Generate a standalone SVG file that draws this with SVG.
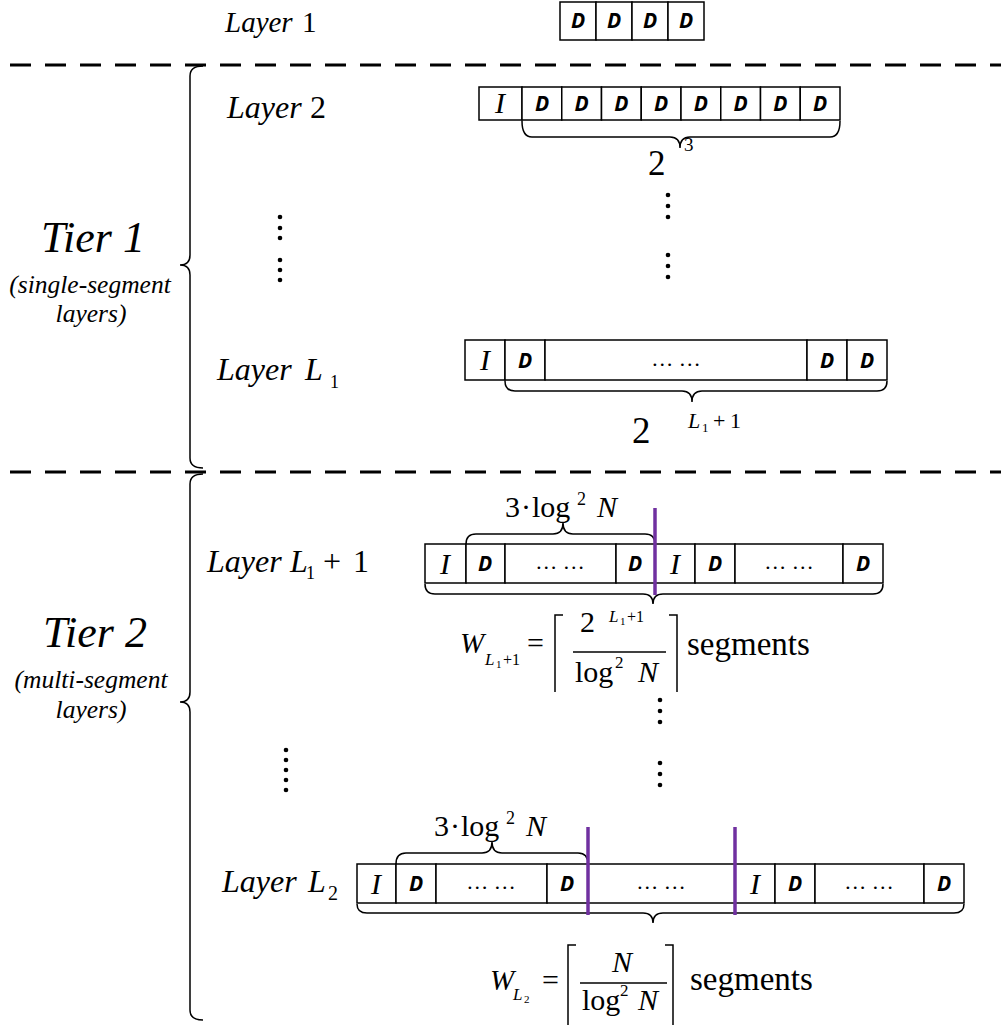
<svg xmlns="http://www.w3.org/2000/svg" width="1001" height="1025" viewBox="0 0 1001 1025">
<style>
.box{fill:#fff;stroke:#000;stroke-width:1.5}
.s{font-family:'Liberation Serif',serif}
.d{font-family:'Open Sans',sans-serif;font-weight:bold;font-style:italic;font-size:21px;text-anchor:middle}
.i{font-style:italic;font-size:30px;text-anchor:middle}
.el{font-size:22px;text-anchor:middle}
.t{fill:#000}
.it{font-style:italic}
.dash{stroke:#000;stroke-width:3;stroke-dasharray:21 14;fill:none}
.brace{fill:none;stroke:#000;stroke-width:1.5}
.ceil{fill:none;stroke:#000;stroke-width:1.5}
.purple{stroke:#7030A0;stroke-width:3.5}
.dot{fill:#000}
</style>

<g id="separators">
<line class="dash" x1="10" y1="65" x2="1001" y2="65"/>
<line class="dash" x1="10" y1="472" x2="1001" y2="472"/>
</g>

<g id="tier1" class="s">
<text class="t it" x="93" y="252" font-size="44" text-anchor="middle">Tier 1</text>
<text class="t it" x="90" y="293" font-size="25.5" text-anchor="middle">(single-segment</text>
<text class="t it" x="91" y="322" font-size="25.5" text-anchor="middle">layers)</text>
</g>
<g id="tier2" class="s">
<text class="t it" x="95" y="647" font-size="44" text-anchor="middle">Tier 2</text>
<text class="t it" x="91" y="688" font-size="25.5" text-anchor="middle">(multi-segment</text>
<text class="t it" x="91" y="718" font-size="25.5" text-anchor="middle">layers)</text>
</g>

<g id="layer1" class="s">
<text class="t it" x="225" y="32" font-size="29">Layer</text>
<text class="t" x="302" y="32" font-size="29">1</text>
<rect class="box" x="560" y="2" width="36" height="38"/>
<rect class="box" x="596" y="2" width="36" height="38"/>
<rect class="box" x="632" y="2" width="36" height="38"/>
<rect class="box" x="668" y="2" width="36" height="38"/>
<text class="d" x="578" y="28">D</text>
<text class="d" x="614" y="28">D</text>
<text class="d" x="650" y="28">D</text>
<text class="d" x="686" y="28">D</text>
</g>

<g id="layer2" class="s">
<text class="t it" x="227" y="118" font-size="32">Layer</text>
<text class="t" x="310" y="118" font-size="32">2</text>
<rect class="box" x="479" y="87" width="43" height="33"/>
<text class="i" x="500" y="113">I</text>
<rect class="box" x="522" y="87" width="39.75" height="33"/>
<rect class="box" x="561.75" y="87" width="39.75" height="33"/>
<rect class="box" x="601.5" y="87" width="39.75" height="33"/>
<rect class="box" x="641.25" y="87" width="39.75" height="33"/>
<rect class="box" x="681" y="87" width="39.75" height="33"/>
<rect class="box" x="720.75" y="87" width="39.75" height="33"/>
<rect class="box" x="760.5" y="87" width="39.75" height="33"/>
<rect class="box" x="800.25" y="87" width="39.75" height="33"/>
<text class="d" x="542" y="111">D</text>
<text class="d" x="581.6" y="111">D</text>
<text class="d" x="621.4" y="111">D</text>
<text class="d" x="661.1" y="111">D</text>
<text class="d" x="700.9" y="111">D</text>
<text class="d" x="740.6" y="111">D</text>
<text class="d" x="780.4" y="111">D</text>
<text class="d" x="820.1" y="111">D</text>
<text class="t" x="648" y="175" font-size="35">2</text>
<text class="t" x="684" y="151" font-size="19">3</text>
</g>

<g id="dots-tier1">
<circle class="dot" cx="280" cy="217" r="2.3"/>
<circle class="dot" cx="280" cy="228" r="2.3"/>
<circle class="dot" cx="280" cy="238" r="2.3"/>
<circle class="dot" cx="280" cy="260" r="2.3"/>
<circle class="dot" cx="280" cy="270" r="2.3"/>
<circle class="dot" cx="280" cy="280" r="2.3"/>
<circle class="dot" cx="668" cy="195" r="2.3"/>
<circle class="dot" cx="668" cy="206" r="2.3"/>
<circle class="dot" cx="668" cy="217" r="2.3"/>
<circle class="dot" cx="668" cy="255" r="2.3"/>
<circle class="dot" cx="668" cy="266" r="2.3"/>
<circle class="dot" cx="668" cy="277" r="2.3"/>
</g>

<g id="layerL1" class="s">
<text class="t it" x="217" y="380" font-size="32">Layer</text>
<text class="t it" x="305" y="380" font-size="32">L</text>
<text class="t" x="330" y="388" font-size="18">1</text>
<rect class="box" x="465" y="340" width="40" height="40"/>
<rect class="box" x="505" y="340" width="40" height="40"/>
<rect class="box" x="545" y="340" width="262" height="40"/>
<rect class="box" x="807" y="340" width="40" height="40"/>
<rect class="box" x="847" y="340" width="40" height="40"/>
<text class="i" x="485" y="370">I</text>
<text class="el" x="676" y="366">… …</text>
<text class="d" x="525" y="368">D</text>
<text class="d" x="827" y="368">D</text>
<text class="d" x="867" y="368">D</text>
<text class="t" x="632" y="443" font-size="37">2</text>
<text class="t it" x="688" y="428" font-size="22">L</text>
<text class="t" x="702" y="432" font-size="13">1</text>
<text class="t" x="713" y="428" font-size="22">+</text>
<text class="t" x="730" y="428" font-size="22">1</text>
</g>

<g id="layerL1p1" class="s">
<text class="t it" x="207" y="572" font-size="32">Layer</text>
<text class="t it" x="290" y="572" font-size="32">L</text>
<text class="t" x="306" y="579" font-size="18">1</text>
<text class="t" x="323" y="572" font-size="32">+</text>
<text class="t" x="353" y="572" font-size="32">1</text>
<text class="t" x="505" y="517" font-size="30">3</text>
<text class="t" x="521" y="517" font-size="30">·</text>
<text class="t" x="532" y="517" font-size="30">log</text>
<text class="t" x="577" y="505" font-size="18">2</text>
<text class="t it" x="597" y="517" font-size="30">N</text>
<rect class="box" x="425" y="544" width="41" height="39"/>
<rect class="box" x="466" y="544" width="39" height="39"/>
<rect class="box" x="505" y="544" width="111" height="39"/>
<rect class="box" x="616" y="544" width="39" height="39"/>
<rect class="box" x="655" y="544" width="40" height="39"/>
<rect class="box" x="695" y="544" width="40" height="39"/>
<rect class="box" x="735" y="544" width="108" height="39"/>
<rect class="box" x="843" y="544" width="40" height="39"/>
<text class="i" x="445" y="574">I</text>
<text class="el" x="560" y="569">… …</text>
<text class="i" x="675" y="574">I</text>
<text class="el" x="789" y="569">… …</text>
<text class="d" x="485" y="571">D</text>
<text class="d" x="635" y="571">D</text>
<text class="d" x="715" y="571">D</text>
<text class="d" x="863" y="571">D</text>
</g>

<g id="formula1" class="s">
<text class="t it" x="460" y="653" font-size="29">W</text>
<text class="t it" x="485" y="665" font-size="17">L</text>
<text class="t" x="496" y="668" font-size="11">1</text>
<text class="t" x="503" y="665" font-size="16">+1</text>
<text class="t" x="527" y="653" font-size="30">=</text>
<path class="ceil" d="M563,615 L555,615 L555,692"/>
<path class="ceil" d="M669,615 L677,615 L677,692"/>
<text class="t" x="580" y="632" font-size="30">2</text>
<text class="t it" x="609" y="622" font-size="17">L</text>
<text class="t" x="620" y="625" font-size="11">1</text>
<text class="t" x="627" y="622" font-size="16">+1</text>
<line x1="573" y1="652" x2="666" y2="652" stroke="#000" stroke-width="1.3"/>
<text class="t" x="575" y="682" font-size="30">log</text>
<text class="t" x="615" y="668" font-size="17">2</text>
<text class="t it" x="638" y="682" font-size="30">N</text>
<text class="t" x="687" y="655" font-size="33">segments</text>
</g>

<g id="dots-tier2">
<circle class="dot" cx="286" cy="750" r="2.3"/>
<circle class="dot" cx="286" cy="760" r="2.3"/>
<circle class="dot" cx="286" cy="770" r="2.3"/>
<circle class="dot" cx="286" cy="780" r="2.3"/>
<circle class="dot" cx="286" cy="790" r="2.3"/>
<circle class="dot" cx="660" cy="700" r="2.3"/>
<circle class="dot" cx="660" cy="711" r="2.3"/>
<circle class="dot" cx="660" cy="722" r="2.3"/>
<circle class="dot" cx="660" cy="763" r="2.3"/>
<circle class="dot" cx="660" cy="774" r="2.3"/>
<circle class="dot" cx="660" cy="785" r="2.3"/>
</g>

<g id="layerL2" class="s">
<text class="t it" x="222" y="892" font-size="32">Layer</text>
<text class="t it" x="308" y="892" font-size="32">L</text>
<text class="t" x="328" y="900" font-size="20">2</text>
<text class="t" x="434" y="836" font-size="30">3</text>
<text class="t" x="450" y="836" font-size="30">·</text>
<text class="t" x="461" y="836" font-size="30">log</text>
<text class="t" x="506" y="824" font-size="18">2</text>
<text class="t it" x="526" y="836" font-size="30">N</text>
<rect class="box" x="357" y="864" width="39" height="39"/>
<rect class="box" x="396" y="864" width="40" height="39"/>
<rect class="box" x="436" y="864" width="111" height="39"/>
<rect class="box" x="547" y="864" width="41" height="39"/>
<rect class="box" x="588" y="864" width="147" height="39"/>
<rect class="box" x="735" y="864" width="40" height="39"/>
<rect class="box" x="775" y="864" width="40" height="39"/>
<rect class="box" x="815" y="864" width="109" height="39"/>
<rect class="box" x="924" y="864" width="40" height="39"/>
<text class="i" x="376" y="894">I</text>
<text class="el" x="491" y="889">… …</text>
<text class="el" x="661" y="889">… …</text>
<text class="i" x="755" y="894">I</text>
<text class="el" x="869" y="889">… …</text>
<text class="d" x="416" y="891">D</text>
<text class="d" x="567" y="891">D</text>
<text class="d" x="795" y="891">D</text>
<text class="d" x="944" y="891">D</text>
</g>

<g id="formula2" class="s">
<text class="t it" x="490" y="990" font-size="29">W</text>
<text class="t it" x="513" y="1000" font-size="17">L</text>
<text class="t" x="524" y="1003" font-size="11">2</text>
<text class="t" x="542" y="990" font-size="30">=</text>
<path class="ceil" d="M576,945 L568,945 L568,1025"/>
<path class="ceil" d="M665,945 L673,945 L673,1025"/>
<text class="t it" x="612" y="972" font-size="30">N</text>
<line x1="580" y1="983" x2="667" y2="983" stroke="#000" stroke-width="1.3"/>
<text class="t" x="582" y="1010" font-size="30">log</text>
<text class="t" x="620" y="996" font-size="17">2</text>
<text class="t it" x="638" y="1010" font-size="30">N</text>
<text class="t" x="690" y="990" font-size="33">segments</text>
</g>

<g id="connectors">
<path class="brace" d="M203,66 Q190,66 190,76 L190,255 Q190,265 180,265 Q190,265 190,275 L190,458 Q190,468 203,468"/>
<path class="brace" d="M203,474 Q190,474 190,484 L190,692 Q190,702 180,702 Q190,702 190,712 L190,1010 Q190,1020 203,1020"/>
<path class="brace" d="M522,121 Q522,137 532,137 L670,137 Q680,137 680,148 Q680,137 690,137 L830,137 Q840,137 840,121"/>
<path class="brace" d="M505,381 Q505,391 515,391 L682,391 Q692,391 692,402 Q692,391 702,391 L877,391 Q887,391 887,381"/>
<path class="brace" d="M425,584 Q425,594 435,594 L643,594 Q653,594 653,604 Q653,594 663,594 L873,594 Q883,594 883,584"/>
<path class="brace" d="M466,544 Q466,534 476,534 L553,534 Q563,534 563,523 Q563,534 573,534 L645,534 Q655,534 655,544"/>
<path class="brace" d="M396,864 Q396,853 406,853 L482,853 Q492,853 492,842 Q492,853 502,853 L578,853 Q588,853 588,864"/>
<path class="brace" d="M357,904 Q357,913 367,913 L643,913 Q653,913 653,923 Q653,913 663,913 L954,913 Q964,913 964,904"/>
<line class="purple" x1="655" y1="508" x2="655" y2="595"/>
<line class="purple" x1="588" y1="827" x2="588" y2="915"/>
<line class="purple" x1="735" y1="827" x2="735" y2="915"/>
</g>
</svg>
